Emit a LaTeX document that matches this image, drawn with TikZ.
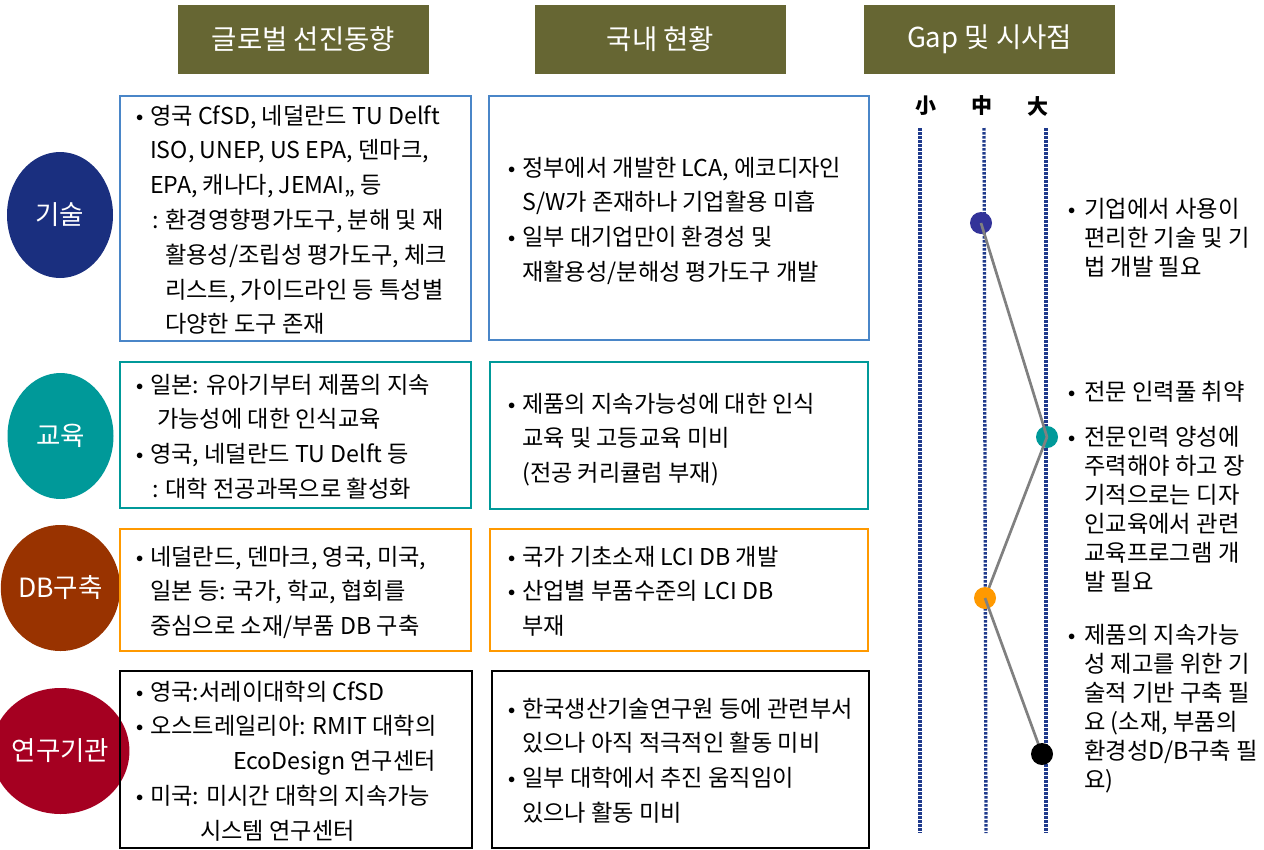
\documentclass[tikz,border=0pt]{standalone}
\usepackage{fontspec}
\setmainfont{Noto Sans CJK KR}
\usetikzlibrary{shapes.geometric}
\definecolor{hdrolive}{HTML}{666633}
\definecolor{cnavy}{HTML}{1A2F7F}
\definecolor{cteal}{HTML}{009999}
\definecolor{cbrown}{HTML}{993300}
\definecolor{ccrim}{HTML}{A50021}
\definecolor{bblue}{HTML}{4A86C8}
\definecolor{borange}{HTML}{FF9900}
\definecolor{dblue}{HTML}{333399}
\definecolor{gline}{HTML}{1F3A8C}
\definecolor{cgrey}{HTML}{808080}
\newcommand\bu{\makebox[14pt][l]{\raisebox{3pt}{\fontsize{15}{15}\selectfont$\bullet$}}}
\newcommand\bur{\makebox[16pt][l]{\raisebox{3pt}{\fontsize{15}{15}\selectfont$\bullet$}}}
\newcommand\ind[1]{\hspace*{#1pt}}
\newcommand\boxtext[1]{\parbox[t]{370pt}{\raggedright\fontsize{23.2}{34.8}\selectfont #1}}
\newcommand\gaptext[1]{\parbox[t]{200pt}{\raggedright\fontsize{23.3}{29}\selectfont #1}}
\begin{document}
\begin{tikzpicture}[x=1pt,y=-1pt,
  hdr/.style={fill=hdrolive, text=white, minimum width=251pt, minimum height=69pt, inner sep=0pt, font=\fontsize{27.5}{32}\selectfont},
  circ/.style={ellipse, minimum width=106pt, minimum height=126pt, inner sep=0pt, text=white, font=\fontsize{26.5}{30}\selectfont},
  framebox/.style={draw, line width=2.6pt, rectangle, inner sep=0pt},
  txt/.style={anchor=base west, inner sep=0pt},
  gapline/.style={gline, line width=3.3pt, dash pattern=on 2.7pt off 1.3pt},
  gapdot/.style={circle, minimum size=22pt, inner sep=0pt},
  conn/.style={cgrey, line width=2.7pt},
  scalelbl/.style={font=\fontsize{21}{24}\selectfont\bfseries}]
\useasboundingbox (0,0) rectangle (1264,849);

% headers
\node[hdr] (h1) at (303.5,39.5) {글로벌 선진동향};
\node[hdr] (h2) at (660.5,39.5) {국내 현황};
\node[hdr] (h3) at (989.5,39.5) {Gap 및 시사점};

% category circles
\node[circ, fill=cnavy] (c1) at (60,215) {기술};
\node[circ, fill=cteal] (c2) at (60.5,436) {교육};
\node[circ, fill=cbrown] (c3) at (60.5,588) {DB구축};
\node[circ, fill=ccrim] (c4) at (60.5,751) {연구기관};

% frames
\node[framebox, draw=bblue, minimum width=351pt, minimum height=245pt] (l1) at (295.5,218.5) {};
\node[framebox, draw=cteal, minimum width=351pt, minimum height=146pt] (l2) at (295.5,435) {};
\node[framebox, draw=borange, minimum width=351pt, minimum height=122pt] (l3) at (295.5,590) {};
\node[framebox, draw=black, minimum width=352pt, minimum height=177pt] (l4) at (296,759.5) {};
\node[framebox, draw=bblue, minimum width=380pt, minimum height=244pt] (m1) at (679,218) {};
\node[framebox, draw=cteal, minimum width=378pt, minimum height=147pt] (m2) at (679,435.5) {};
\node[framebox, draw=borange, minimum width=378pt, minimum height=122pt] (m3) at (679,590) {};
\node[framebox, draw=black, minimum width=377pt, minimum height=177pt] (m4) at (680.5,759.5) {};

% left texts
\node[txt] (lt1) at (136,124) {\boxtext{\bu 영국 CfSD, 네덜란드 TU Delft\\
\ind{14}ISO, UNEP, US EPA, 덴마크,\\
\ind{14}EPA, 캐나다, JEMAI,, 등\\
\ind{16}: 환경영향평가도구, 분해 및 재\\
\ind{29}활용성/조립성 평가도구, 체크\\
\ind{29}리스트, 가이드라인 등 특성별\\
\ind{29}다양한 도구 존재}};
\node[txt] (lt2) at (136,393) {\boxtext{\bu 일본: 유아기부터 제품의 지속\\
\ind{21}가능성에 대한 인식교육\\
\bu 영국, 네덜란드 TU Delft 등\\
\ind{16}: 대학 전공과목으로 활성화}};
\node[txt] (lt3) at (136,565) {\boxtext{\bu 네덜란드, 덴마크, 영국, 미국,\\
\ind{14}일본 등: 국가, 학교, 협회를\\
\ind{14}중심으로 소재/부품 DB 구축}};
\node[txt] (lt4) at (136,700) {\boxtext{\bu 영국:서레이대학의 CfSD\\
\bu 오스트레일리아: RMIT 대학의\\
\ind{97}EcoDesign 연구센터\\
\bu 미국: 미시간 대학의 지속가능\\
\ind{64}시스템 연구센터}};

% middle texts
\node[txt] (mt1) at (508,176) {\boxtext{\bu 정부에서 개발한 LCA, 에코디자인\\
\ind{14}S/W가 존재하나 기업활용 미흡\\
\bu 일부 대기업만이 환경성 및\\
\ind{14}재활용성/분해성 평가도구 개발}};
\node[txt] (mt2) at (508,412) {\boxtext{\bu 제품의 지속가능성에 대한 인식\\
\ind{14}교육 및 고등교육 미비\\
\ind{14}(전공 커리큘럼 부재)}};
\node[txt] (mt3) at (508,565) {\boxtext{\bu 국가 기초소재 LCI DB 개발\\
\bu 산업별 부품수준의 LCI DB\\
\ind{14}부재}};
\node[txt] (mt4) at (508,717) {\boxtext{\bu 한국생산기술연구원 등에 관련부서\\
\ind{14}있으나 아직 적극적인 활동 미비\\
\bu 일부 대학에서 추진 움직임이\\
\ind{14}있으나 활동 미비}};

% gap scale
\node[scalelbl] (s1) at (926,106) {小};
\node[scalelbl] (s2) at (982,106) {中};
\node[scalelbl] (s3) at (1038,106) {大};
\coordinate (g1t) at (920,128); \coordinate (g1b) at (920,833);
\coordinate (g2t) at (984,128); \coordinate (g2b) at (986,833);
\coordinate (g3t) at (1046,128); \coordinate (g3b) at (1046,833);
\draw[gapline] (g1t) -- (g1b);
\draw[gapline] (g2t) -- (g2b);
\draw[gapline] (g3t) -- (g3b);

\node[gapdot, fill=dblue] (d1) at (981,223) {};
\node[gapdot, fill=cteal] (d2) at (1047,437) {};
\coordinate (d3c) at (985,598);
\coordinate (d4c) at (1042,754);
\draw[conn] (d1.center) -- (d2.center);
\draw[conn] (d2.center) -- (d3c);
\node[gapdot, fill=borange] (d3) at (d3c) {};
\draw[conn] (d3.center) -- (d4c);
\node[gapdot, fill=black] (d4) at (d4c) {};

% gap texts
\node[txt] (r1) at (1068,217) {\gaptext{\bur 기업에서 사용이\\
\ind{16}편리한 기술 및 기\\
\ind{16}법 개발 필요}};
\node[txt] (r2) at (1068,400) {\gaptext{\bur 전문 인력풀 취약}};
\node[txt] (r3) at (1068,445) {\gaptext{\bur 전문인력 양성에\\
\ind{16}주력해야 하고 장\\
\ind{16}기적으로는 디자\\
\ind{16}인교육에서 관련\\
\ind{16}교육프로그램 개\\
\ind{16}발 필요}};
\node[txt] (r4) at (1068,643) {\gaptext{\bur 제품의 지속가능\\
\ind{16}성 제고를 위한 기\\
\ind{16}술적 기반 구축 필\\
\ind{16}요 (소재, 부품의\\
\ind{16}환경성D/B구축 필\\
\ind{16}요)}};
\end{tikzpicture}
\end{document}
